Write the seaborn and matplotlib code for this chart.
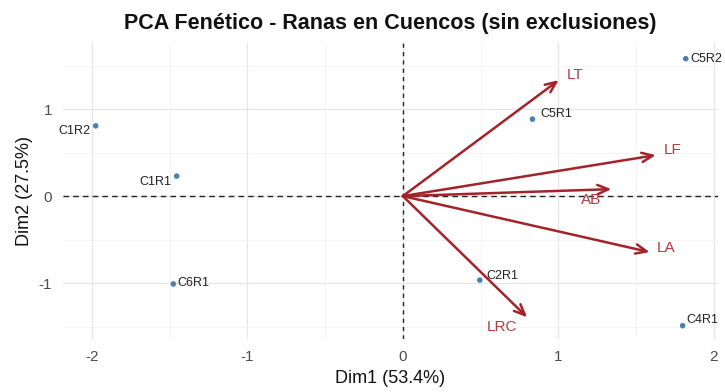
import matplotlib
matplotlib.use("Agg")
import matplotlib.pyplot as plt
import seaborn as sns
import pandas as pd
from matplotlib.ticker import MultipleLocator

# Individuals (scores on the first two principal components)
ind_names = ["C1R1", "C1R2", "C2R1", "C4R1", "C5R1", "C5R2", "C6R1"]
ind_dim1 = [-1.455, -1.976, 0.495, 1.80, 0.834, 1.82, -1.477]
ind_dim2 = [0.23, 0.808, -0.966, -1.49, 0.885, 1.58, -1.01]

# Variables (scaled loadings drawn as arrows)
var_names = ["LT", "LF", "AB", "LA", "LRC"]
var_dim1 = [1.003, 1.627, 1.342, 1.588, 0.80]
var_dim2 = [1.333, 0.471, 0.080, -0.644, -1.394]

title = "PCA Fenético - Ranas en Cuencos (sin exclusiones)"
xlabel = "Dim1 (53.4%)"
ylabel = "Dim2 (27.5%)"

# label placement (offset points relative to the mark)
ind_offsets = {
    "C1R1": (-4, -4, "right"), "C1R2": (-4, -4, "right"), "C2R1": (5, 3, "left"),
    "C4R1": (3, 4, "left"), "C5R1": (6, 4, "left"), "C5R2": (3, 0, "left"),
    "C6R1": (3, 1, "left"),
}
var_offsets = {
    "LT": (12, 4), "LF": (12, 4), "AB": (-15, -8), "LA": (12, 3), "LRC": (-18, -7),
}

ind = pd.DataFrame({"name": ind_names, "Dim1": ind_dim1, "Dim2": ind_dim2})
var = pd.DataFrame({"name": var_names, "Dim1": var_dim1, "Dim2": var_dim2})

sns.set_theme(style="whitegrid")
plt.rcParams["font.family"] = ["Liberation Sans", "DejaVu Sans"]
plt.rcParams["axes.unicode_minus"] = False

fig = plt.figure(figsize=(7.25, 3.92), dpi=100)
ax = fig.add_axes([0.087, 0.135, 0.903, 0.755])

POINT_COL = "#4a7fae"
ARROW_COL = "#a3232a"
LABEL_COL = "#b23b3e"

sns.scatterplot(data=ind, x="Dim1", y="Dim2", ax=ax, color=POINT_COL,
                s=16, edgecolor="none", zorder=4, legend=False)

for _, r in ind.iterrows():
    dx, dy, ha = ind_offsets[r["name"]]
    ax.annotate(r["name"], (r["Dim1"], r["Dim2"]), xytext=(dx, dy),
                textcoords="offset points", ha=ha, va="center",
                fontsize=9, color="#222222", zorder=5)

for _, r in var.iterrows():
    ax.annotate("", xy=(r["Dim1"], r["Dim2"]), xytext=(0, 0),
                arrowprops=dict(arrowstyle="->,head_length=0.65,head_width=0.28",
                                color=ARROW_COL, lw=1.8, shrinkA=0, shrinkB=0),
                zorder=3)
    dx, dy = var_offsets[r["name"]]
    ax.annotate(r["name"], (r["Dim1"], r["Dim2"]), xytext=(dx, dy),
                textcoords="offset points", ha="center", va="center",
                fontsize=11, color=LABEL_COL, zorder=5)

ax.axhline(0, color="#222222", lw=1.0, ls=(0, (4, 3)), zorder=2)
ax.axvline(0, color="#222222", lw=1.0, ls=(0, (3, 3)), zorder=2)

ax.set_xlim(-2.186, 2.026)
ax.set_ylim(-1.644, 1.759)
ax.xaxis.set_major_locator(MultipleLocator(1))
ax.yaxis.set_major_locator(MultipleLocator(1))
ax.xaxis.set_minor_locator(MultipleLocator(0.5))
ax.yaxis.set_minor_locator(MultipleLocator(0.5))
ax.grid(which="major", color="#e6e6e6", lw=0.9)
ax.grid(which="minor", color="#f2f2f2", lw=0.6)
ax.set_facecolor("white")
for s in ax.spines.values():
    s.set_visible(False)
ax.tick_params(which="both", length=0, labelsize=11, labelcolor="#4d4d4d")
ax.tick_params(axis="x", pad=8)
ax.tick_params(axis="y", pad=8)

ax.set_xlabel(xlabel, fontsize=13, color="#111111", labelpad=4)
ax.set_ylabel(ylabel, fontsize=13, color="#111111", labelpad=4)
ax.set_title(title, fontsize=15.5, fontweight="bold", color="#111111", pad=10)

fig.savefig("out.png", dpi=100, facecolor="white")
